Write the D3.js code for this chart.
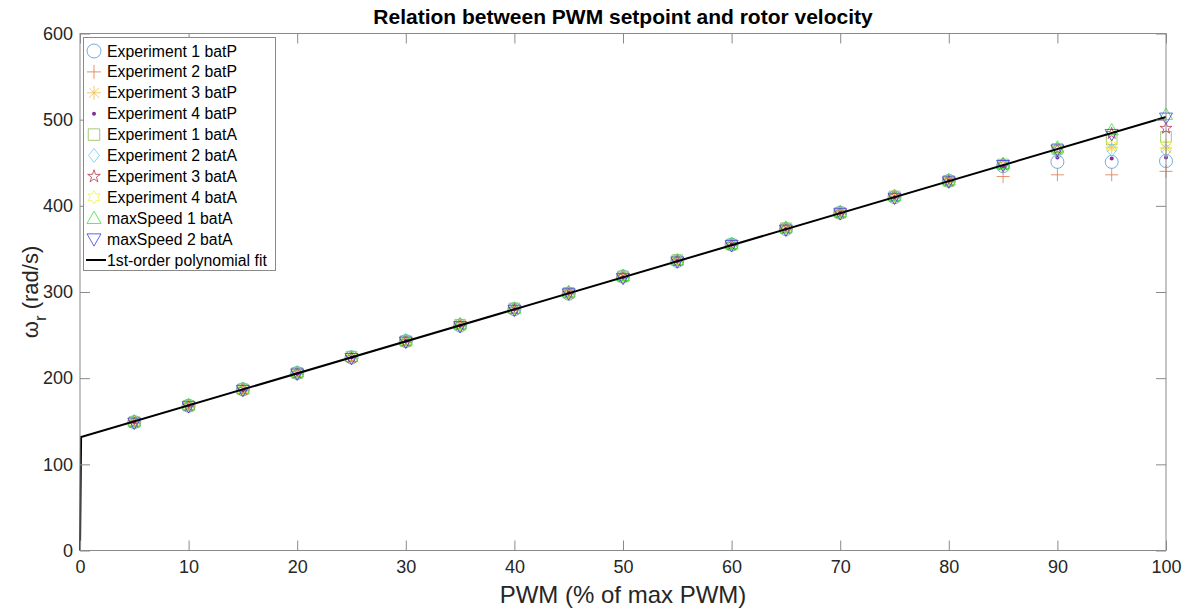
<!DOCTYPE html>
<html>
<head>
<meta charset="utf-8">
<script src="https://cdn.jsdelivr.net/npm/d3@7"></script>
<style>
  body { margin: 0; background: #fff; }
  svg { display: block; font-family: "Liberation Sans", Arial, Helvetica, sans-serif; }
</style>
</head>
<body>
<svg id="chart" width="1191" height="610"></svg>
<script>
// PWM setpoints (% of max PWM)
const pwm = [5, 10, 15, 20, 25, 30, 35, 40, 45, 50, 55, 60, 65, 70, 75, 80, 85, 90, 95, 100];

// Measured rotor velocity (rad/s) per experiment
const exp1BatP = [149, 168, 187, 206, 224, 243, 261, 280, 298, 318, 336, 355, 373, 392, 410, 429, 446, 451, 451, 452];
const exp2BatP = [148, 167, 186, 205, 224, 242, 261, 280, 298, 317, 336, 354, 373, 391, 410, 428, 434, 436, 436, 440];
const exp3BatP = [149, 168, 187, 206, 224, 243, 262, 280, 299, 318, 336, 355, 374, 392, 410, 429, 447, 462, 468, 467];
const exp4BatP = [149, 168, 186, 205, 224, 243, 261, 280, 299, 317, 336, 355, 373, 392, 410, 429, 446, 456, 455, 456];
const exp1BatA = [149, 168, 187, 206, 225, 243, 262, 281, 299, 318, 337, 355, 374, 392, 411, 429, 448, 466, 477, 480];
const exp2BatA = [150, 169, 187, 206, 225, 244, 262, 281, 300, 318, 337, 356, 374, 393, 411, 430, 448, 463, 465, 464];
const exp3BatA = [149, 168, 187, 206, 224, 243, 262, 280, 299, 318, 336, 355, 374, 392, 411, 429, 448, 466, 484, 490];
const exp4BatA = [149, 168, 187, 206, 225, 243, 262, 281, 299, 318, 337, 355, 374, 392, 411, 430, 447, 465, 470, 470];
const maxSpeed1 = [150, 169, 188, 207, 225, 244, 263, 281, 300, 319, 337, 356, 375, 393, 412, 430, 449, 468, 488, 506];
const maxSpeed2 = [148, 167, 186, 205, 223, 242, 260, 279, 298, 316, 335, 354, 372, 391, 409, 428, 447, 465, 483, 502];

// First-order polynomial fit, evaluated on its plotting grid
const fitX = [0, 0.1, 100];
const fitY = [0, 131.6, 503];

// Axis ticks
const xTicks = [0, 10, 20, 30, 40, 50, 60, 70, 80, 90, 100];
const yTicks = [0, 100, 200, 300, 400, 500, 600];

const series = [
  { name: "Experiment 1 batP", values: exp1BatP, marker: "circle",   color: "#4a90d0" },
  { name: "Experiment 2 batP", values: exp2BatP, marker: "plus",     color: "#e07040" },
  { name: "Experiment 3 batP", values: exp3BatP, marker: "asterisk", color: "#f0b840" },
  { name: "Experiment 4 batP", values: exp4BatP, marker: "dot",      color: "#7e2f8e" },
  { name: "Experiment 1 batA", values: exp1BatA, marker: "square",   color: "#88bb50" },
  { name: "Experiment 2 batA", values: exp2BatA, marker: "diamond",  color: "#60c8f0" },
  { name: "Experiment 3 batA", values: exp3BatA, marker: "pentagram",color: "#b03048" },
  { name: "Experiment 4 batA", values: exp4BatA, marker: "hexagram", color: "#f0f040" },
  { name: "maxSpeed 1 batA",   values: maxSpeed1, marker: "triUp",   color: "#30e030" },
  { name: "maxSpeed 2 batA",   values: maxSpeed2, marker: "triDown", color: "#3030f0" }
];

const svg = d3.select("#chart");
const margin = { left: 80, right: 25, top: 33.5, bottom: 59.5 };
const W = 1191, H = 610;
const x = d3.scaleLinear().domain([0, 100]).range([margin.left, W - margin.right]);
const y = d3.scaleLinear().domain([0, 600]).range([H - margin.bottom, margin.top]);

// Marker path builders (centered at 0,0)
function markerPath(type, s) {
  const r = s / 2;
  switch (type) {
    case "circle": return d3.symbol(d3.symbolCircle, Math.PI * r * r)();
    case "plus": return `M${-r},0L${r},0M0,${-r}L0,${r}`;
    case "asterisk": {
      const a = r * 0.72;
      return `M${-r},0L${r},0M0,${-r}L0,${r}M${-a},${-a}L${a},${a}M${-a},${a}L${a},${-a}`;
    }
    case "dot": return d3.symbol(d3.symbolCircle, Math.PI * 2 * 2)();
    case "square": { const h = r * 0.82; return `M${-h},${-h}H${h}V${h}H${-h}Z`; }
    case "diamond": return `M0,${-r}L${r * 0.78},0L0,${r}L${-r * 0.78},0Z`;
    case "pentagram": {
      const pts = [];
      const R = r * 0.95, ri = R * 0.382;
      for (let i = 0; i < 10; i++) {
        const rr = i % 2 === 0 ? R : ri;
        const ang = -Math.PI / 2 + i * Math.PI / 5;
        pts.push([rr * Math.cos(ang), rr * Math.sin(ang)]);
      }
      return "M" + pts.map(p => p.join(",")).join("L") + "Z";
    }
    case "hexagram": {
      const pts = [];
      const R = r * 0.95, ri = R * 0.577;
      for (let i = 0; i < 12; i++) {
        const rr = i % 2 === 0 ? R : ri;
        const ang = -Math.PI / 2 + i * Math.PI / 6;
        pts.push([rr * Math.cos(ang), rr * Math.sin(ang)]);
      }
      return "M" + pts.map(p => p.join(",")).join("L") + "Z";
    }
    case "triUp": return `M0,${-r}L${r},${r * 0.75}L${-r},${r * 0.75}Z`;
    case "triDown": return `M0,${r}L${r},${-r * 0.75}L${-r},${-r * 0.75}Z`;
  }
}
const markerSize = 13;

// Data markers
const marks = svg.append("g").attr("class", "marks");
series.forEach(s => {
  const filled = s.marker === "dot";
  marks.append("g")
    .selectAll("path")
    .data(pwm.map((p, i) => [p, s.values[i]]))
    .join("path")
    .attr("transform", d => `translate(${x(d[0])},${y(d[1])})`)
    .attr("d", markerPath(s.marker, markerSize))
    .attr("fill", filled ? s.color : "none")
    .attr("stroke", s.color)
    .attr("stroke-width", filled ? 0 : 0.9)
    .attr("stroke-opacity", 0.85);
});

// Fit line
svg.append("path")
  .datum(fitX.map((v, i) => [v, fitY[i]]))
  .attr("d", d3.line().x(d => x(d[0])).y(d => y(d[1])))
  .attr("fill", "none")
  .attr("stroke", "#000")
  .attr("stroke-width", 2);

// Axes box with inward ticks on all four sides
const axisColor = "#8a8a8a";
const tickLen = 10;
const ax = svg.append("g").attr("class", "axes");
ax.append("rect")
  .attr("x", x(0)).attr("y", y(600))
  .attr("width", x(100) - x(0)).attr("height", y(0) - y(600))
  .attr("fill", "none").attr("stroke", axisColor).attr("stroke-width", 1);

const xAxisB = d3.axisBottom(x).tickValues(xTicks).tickSizeInner(-tickLen).tickSizeOuter(0).tickPadding(10);
const xAxisT = d3.axisTop(x).tickValues(xTicks).tickSizeInner(-tickLen).tickSizeOuter(0).tickFormat("");
const yAxisL = d3.axisLeft(y).tickValues(yTicks).tickSizeInner(-tickLen).tickSizeOuter(0).tickPadding(7);
const yAxisR = d3.axisRight(y).tickValues(yTicks).tickSizeInner(-tickLen).tickSizeOuter(0).tickFormat("");

function styleAxis(g) {
  g.select(".domain").remove();
  g.selectAll(".tick line").attr("stroke", axisColor);
  g.selectAll(".tick text").attr("fill", "#262626").style("font-size", "18px")
    .style("font-family", "'Liberation Sans', Arial, sans-serif");
}
ax.append("g").attr("transform", `translate(0,${y(0)})`).call(xAxisB).call(styleAxis);
ax.append("g").attr("transform", `translate(0,${y(600)})`).call(xAxisT).call(styleAxis);
ax.append("g").attr("transform", `translate(${x(0)},0)`).call(yAxisL).call(styleAxis);
ax.append("g").attr("transform", `translate(${x(100)},0)`).call(yAxisR).call(styleAxis);

// Title and axis labels
svg.append("text")
  .attr("x", (x(0) + x(100)) / 2).attr("y", 24)
  .attr("text-anchor", "middle")
  .style("font-size", "21px").style("font-weight", "bold").attr("fill", "#000")
  .text("Relation between PWM setpoint and rotor velocity");

svg.append("text")
  .attr("x", (x(0) + x(100)) / 2).attr("y", 603)
  .attr("text-anchor", "middle")
  .style("font-size", "24px").attr("fill", "#262626")
  .text("PWM (% of max PWM)");

const yl = svg.append("text")
  .attr("transform", `translate(38,${(y(0) + y(600)) / 2}) rotate(-90)`)
  .attr("text-anchor", "middle")
  .style("font-size", "22px").attr("fill", "#262626");
yl.append("tspan").text("ω");
yl.append("tspan").attr("dy", 8).style("font-size", "17px").text("r");
yl.append("tspan").attr("dy", -8).text(" (rad/s)");

// Legend
const legend = svg.append("g").attr("class", "legend");
const lx = 83, ly = 37, lw = 192, lh = 233, rowH = 20.9;
legend.append("rect")
  .attr("x", lx + 0.5).attr("y", ly + 0.5).attr("width", lw).attr("height", lh)
  .attr("fill", "#fff").attr("stroke", axisColor).attr("stroke-width", 1);

const entries = series.concat([{ name: "1st-order polynomial fit", marker: "line", color: "#000" }]);
entries.forEach((s, i) => {
  const cy = ly + 14 + i * rowH;
  if (s.marker === "line") {
    legend.append("line").attr("x1", lx + 3).attr("x2", lx + 23).attr("y1", cy).attr("y2", cy)
      .attr("stroke", "#000").attr("stroke-width", 2);
  } else {
    const filled = s.marker === "dot";
    legend.append("path")
      .attr("transform", `translate(${lx + 11},${cy})`)
      .attr("d", markerPath(s.marker, markerSize + 1))
      .attr("fill", filled ? s.color : "none")
      .attr("stroke", s.color)
      .attr("stroke-width", filled ? 0 : 0.9)
      .attr("stroke-opacity", 0.85);
  }
  legend.append("text")
    .attr("x", lx + 24).attr("y", cy + 5.5)
    .style("font-size", "15.8px").attr("fill", "#000")
    .text(s.name);
});
</script>
</body>
</html>
